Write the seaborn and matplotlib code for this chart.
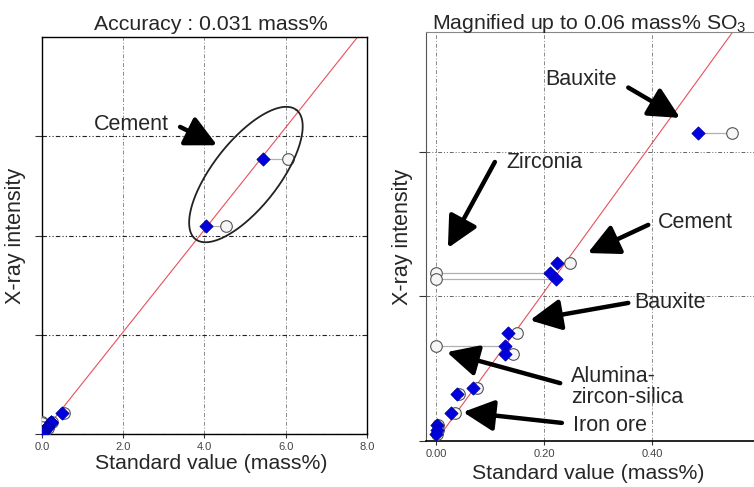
import numpy as np
import pandas as pd
import seaborn as sns
import matplotlib.pyplot as plt

# SO3 calibration data: diamonds = XRF result, circles = standard value
cement_xrf = [4.04, 5.44]
cement_std = [4.53, 6.06]
cement_int = [4.19, 5.54]

low_xrf = [0.485, 0.224, 0.211, 0.222, 0.133, 0.128, 0.128, 0.069, 0.039, 0.028, 0.001, 0.002, 0.000]
low_std = [0.548, 0.248, 0.000, 0.000, 0.150, 0.000, 0.143, 0.076, 0.042, 0.035, 0.003, 0.004, 0.002]
low_int = [0.426, 0.246, 0.233, 0.224, 0.149, 0.132, 0.120, 0.073, 0.065, 0.039, 0.022, 0.015, 0.010]

calib_slope = 1.03

left_xticks = [0, 2, 4, 6, 8]
left_xlabels = ["0.0", "2.0", "4.0", "6.0", "8.0"]
right_xticks = [0, 0.2, 0.4]
right_xlabels = ["0.00", "0.20", "0.40"]

df = pd.DataFrame({
    "xrf": cement_xrf + low_xrf,
    "std": cement_std + low_std,
    "intensity": cement_int + low_int,
})

sns.set_style("white")
plt.rcParams["font.family"] = ["Liberation Sans", "DejaVu Sans"]
plt.rcParams["mathtext.fontset"] = "custom"
plt.rcParams["mathtext.rm"] = "Liberation Sans"

FS = 15.5

fig = plt.figure(figsize=(7.54, 4.87), dpi=100)
ax1 = fig.add_axes([0.0557, 0.1088, 0.431, 0.815])
ax2 = fig.add_axes([0.565, 0.0945, 0.443, 0.840])

arrow_kw = dict(arrowstyle="-|>,head_length=0.9,head_width=0.45", lw=3.2,
                color="black", mutation_scale=21, shrinkA=0, shrinkB=0)


def draw_points(ax, xmax):
    line_x = np.array([0, xmax])
    sns.lineplot(x=line_x, y=calib_slope * line_x, ax=ax, color="#e8505b", lw=0.8, zorder=2)
    ax.hlines(df["intensity"], df["xrf"], df["std"], color="#b0b0b0", lw=0.9, zorder=3)
    sns.scatterplot(data=df, x="std", y="intensity", ax=ax, marker="o", s=70,
                    color="#f6f6f6", edgecolor="#555555", linewidth=0.8, zorder=4)
    sns.scatterplot(data=df, x="xrf", y="intensity", ax=ax, marker="D", s=45,
                    color="#0000dd", edgecolor="#0000aa", linewidth=0.6, zorder=5)


def style_axes(ax):
    ax.set_xlabel("")
    ax.set_ylabel("")
    ax.tick_params(axis="y", direction="out", length=5, width=0.8, color="#333333",
                   labelleft=False, left=True)
    ax.tick_params(axis="x", direction="out", length=3, width=0.8, color="#333333",
                   labelsize=8, labelcolor="#444444", pad=3, bottom=True)


# ---- left panel
draw_points(ax1, 8.5)
ax1.set_xlim(0, 8)
ax1.set_ylim(0, 8)
ax1.set_xticks(left_xticks, left_xlabels)
ax1.set_yticks([0, 2, 4, 6])
style_axes(ax1)
ax1.xaxis.grid(True, color="#8a8a8a", ls=(0, (4, 2, 1, 2)), lw=0.7)
ax1.yaxis.grid(True, color="#222222", ls=(0, (4, 2, 1, 2, 1, 2)), lw=0.8)
for s in ax1.spines.values():
    s.set_color("black")
    s.set_linewidth(1.0)

ax1.set_title("Accuracy : 0.031 mass%", fontsize=15.3, pad=5, x=0.52)
ax1.set_xlabel("Standard value (mass%)", fontsize=15.3)
ax1.xaxis.set_label_coords(0.52, -0.05, transform=ax1.transAxes)
ax1.xaxis.label.set_va("top")
ax1.set_ylabel("X-ray intensity", fontsize=FS)
ax1.yaxis.set_label_coords(-0.05, 0.5)

# ellipse around the cement samples, drawn in pixel space
fig.canvas.draw()
cx, cy = ax1.transData.transform((5.02, 5.23))
t = np.linspace(0, 2 * np.pi, 200)
th = np.deg2rad(52)
u, v = 82 * np.cos(t), 33 * np.sin(t)
pts = np.column_stack([cx + u * np.cos(th) - v * np.sin(th),
                       cy + u * np.sin(th) + v * np.cos(th)])
ell = ax1.transData.inverted().transform(pts)
ax1.plot(ell[:, 0], ell[:, 1], color="#222222", lw=1.3, zorder=6)

ax1.text(2.20, 6.23, "Cement", fontsize=FS, ha="center", va="center")
ax1.annotate("", xy=(4.31, 5.82), xytext=(3.40, 6.19), arrowprops=arrow_kw)

# ---- right panel
draw_points(ax2, 0.6)
ax2.set_xlim(-0.0185, 0.6)
ax2.set_ylim(0, 0.566)
ax2.set_xticks(right_xticks, right_xlabels)
ax2.set_yticks([0, 0.2, 0.4])
style_axes(ax2)
ax2.xaxis.grid(True, color="#8a8a8a", ls=(0, (4, 2, 1, 2)), lw=0.7)
ax2.yaxis.grid(True, color="#666666", ls=(0, (4, 2, 1, 2, 1, 2)), lw=0.7)
ax2.spines["left"].set_color("#555555")
ax2.spines["bottom"].set_color("black")
ax2.spines["bottom"].set_linewidth(1.2)
ax2.spines["top"].set_color("#888888")
ax2.spines["right"].set_visible(False)

ax2.set_title("Magnified up to 0.06 mass% SO$\\mathregular{_3}$", fontsize=15.3, pad=2, x=0.49)
ax2.set_xlabel("Standard value (mass%)", fontsize=15.3)
ax2.xaxis.set_label_coords(0.485, -0.056, transform=ax2.transAxes)
ax2.xaxis.label.set_va("top")
ax2.set_ylabel("X-ray intensity", fontsize=FS)
ax2.yaxis.set_label_coords(-0.04, 0.5)

labels = [
    ("Bauxite", 0.269, 0.500, "center", (0.452, 0.447), (0.356, 0.489)),
    ("Zirconia", 0.200, 0.385, "center", (0.022, 0.267), (0.109, 0.386)),
    ("Cement", 0.481, 0.302, "center", (0.281, 0.260), (0.393, 0.299)),
    ("Bauxite", 0.433, 0.191, "center", (0.174, 0.167), (0.356, 0.191)),
    ("Alumina-\nzircon-silica", 0.250, 0.075, "left", (0.020, 0.123), (0.230, 0.080)),
    ("Iron ore", 0.254, 0.022, "left", (0.050, 0.040), (0.233, 0.025)),
]
for txt, tx, ty, ha, head, tail in labels:
    ax2.text(tx, ty, txt, fontsize=FS, ha=ha, va="center", linespacing=1.0, zorder=7)
    ax2.annotate("", xy=head, xytext=tail, arrowprops=arrow_kw, zorder=7)

fig.savefig("out.png", dpi=100)
